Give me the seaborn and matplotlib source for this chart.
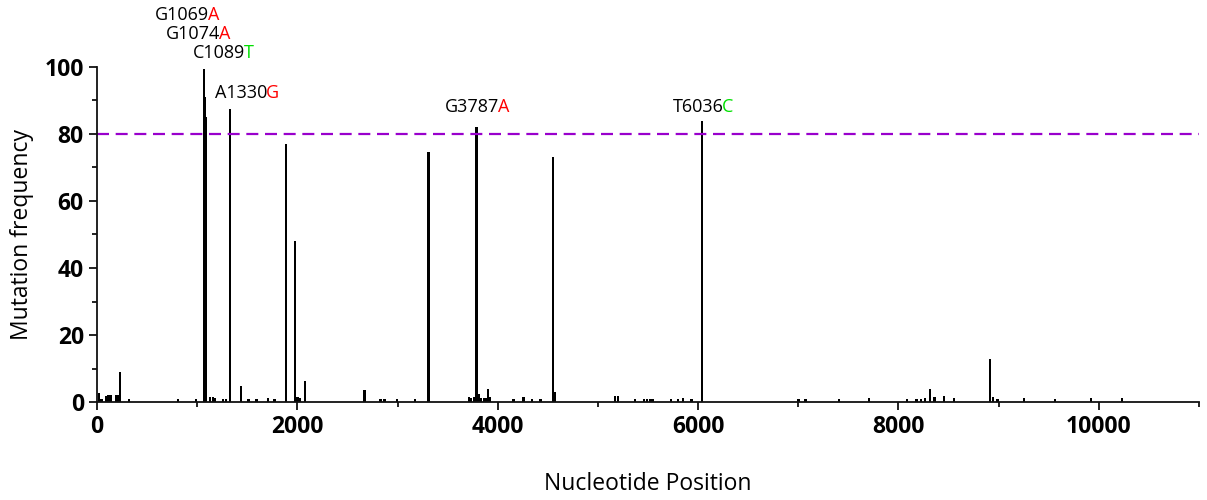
import numpy as np
import pandas as pd
import matplotlib
matplotlib.use('Agg')
import matplotlib.pyplot as plt
import matplotlib.transforms as mtransforms
import seaborn as sns
from matplotlib.ticker import MultipleLocator

# -------------------- DATA --------------------
positions = [20, 45, 90, 115, 140, 190, 215, 232, 320, 806, 990,
             1069, 1074, 1089, 1130, 1160, 1180, 1255, 1290, 1330, 1436,
             1510, 1590, 1705, 1770, 1885, 1978, 2000, 2025, 2078, 2670,
             2830, 2870, 2995, 3175, 3310, 3710, 3735, 3760, 3787, 3810,
             3835, 3860, 3885, 3905, 3925, 4156, 4256, 4343, 4426, 4552,
             4565, 5170, 5200, 5368, 5460, 5490, 5520, 5545, 5731, 5801,
             5851, 5934, 6036, 7003, 7073, 7406, 7706, 8082, 8179, 8222,
             8262, 8315, 8360, 8455, 8555, 8911, 8944, 8990, 9254, 9560,
             9920, 10230]
frequency = [2.7, 1.0, 1.8, 2.0, 2.2, 2.0, 2.0, 9.0, 1.0, 0.8, 1.0,
             99.5, 91.0, 85.0, 1.5, 1.5, 1.2, 1.0, 1.0, 87.5, 4.8,
             1.0, 1.0, 1.3, 1.0, 77.0, 48.0, 1.5, 1.2, 6.3, 3.7,
             1.0, 1.0, 0.8, 1.0, 74.5, 1.5, 1.3, 1.5, 82.0, 2.5,
             1.3, 1.3, 1.3, 4.0, 1.5, 1.0, 1.5, 0.8, 0.8, 73.0,
             3.0, 1.7, 1.7, 1.0, 1.0, 1.0, 1.0, 1.0, 1.0, 1.0,
             1.3, 1.0, 84.0, 1.0, 1.0, 1.0, 1.3, 1.0, 1.0, 1.0,
             1.3, 4.0, 1.5, 1.7, 1.3, 12.8, 1.5, 1.0, 1.3, 1.0,
             1.3, 1.3]

# labelled mutations: reference base, position, alternative base
ref_base = ['G', 'G', 'C', 'A', 'G', 'T']
mut_pos = [1069, 1074, 1089, 1330, 3787, 6036]
alt_base = ['A', 'A', 'T', 'G', 'A', 'C']
# where each label sits (split point between black and coloured part)
label_x = [1119, 1229, 1479, 1698, 4016, 6254]
label_y = [115.5, 109.9, 104.2, 92.2, 88.1, 88.1]

threshold = 80
base_colors = {'A': '#ff0000', 'G': '#ff0000', 'T': '#00e000', 'C': '#00e000'}

df = pd.DataFrame({'position': positions, 'frequency': frequency})

# -------------------- PLOT --------------------
sns.set_style('ticks')
plt.rcParams['font.family'] = ['Open Sans', 'DejaVu Sans']
plt.rcParams['text.color'] = 'black'
plt.rcParams['axes.labelcolor'] = 'black'
plt.rcParams['xtick.color'] = 'black'
plt.rcParams['ytick.color'] = 'black'

fig = plt.figure(figsize=(12.07, 5), dpi=100)
ax = fig.add_axes([0.0804, 0.196, 0.913, 0.670])

bar_w = 24 / np.diff(np.unique(positions)).min()
sns.barplot(data=df, x='position', y='frequency', native_scale=True,
            width=bar_w, color='black', saturation=1, errorbar=None,
            linewidth=0, ax=ax)

ax.axhline(threshold, color='#9900cc', lw=1.6, ls=(0, (5.4, 3)), clip_on=False)

ax.set_xlim(0, 11000)
ax.set_ylim(0, 100)
ax.xaxis.set_major_locator(MultipleLocator(2000))
ax.xaxis.set_minor_locator(MultipleLocator(1000))
ax.yaxis.set_major_locator(MultipleLocator(20))
ax.yaxis.set_minor_locator(MultipleLocator(10))
ax.tick_params(which='major', length=6, width=1.3, color='#111111', direction='out')
ax.tick_params(which='minor', length=3.5, width=1.3, color='#111111', direction='out')
for lab in ax.get_xticklabels() + ax.get_yticklabels():
    lab.set_fontweight('bold')
    lab.set_fontsize(16.5)
    lab.set_color('black')

sns.despine(ax=ax)
for side in ['left', 'bottom']:
    ax.spines[side].set_linewidth(1.3)
    ax.spines[side].set_color('#111111')

ax.set_xlabel('Nucleotide Position', fontsize=16.5, color='black')
ax.set_ylabel('Mutation frequency', fontsize=16.5, color='black')
ax.xaxis.set_label_coords(0.5, -0.21)
ax.yaxis.set_label_coords(-0.057, 0.5)

# pull the coloured base one pixel left so it sits tight to the number
nudge = mtransforms.offset_copy(ax.transData, fig=fig, x=-1.2, y=0, units='dots')
for rb, p, ab, lx, ly in zip(ref_base, mut_pos, alt_base, label_x, label_y):
    ax.text(lx, ly, f'{rb}{p}', ha='right', va='center', fontsize=13, color='black')
    ax.text(lx, ly, ab, ha='left', va='center', fontsize=13,
            color=base_colors[ab], transform=nudge)

fig.savefig('out.png', dpi=100)
